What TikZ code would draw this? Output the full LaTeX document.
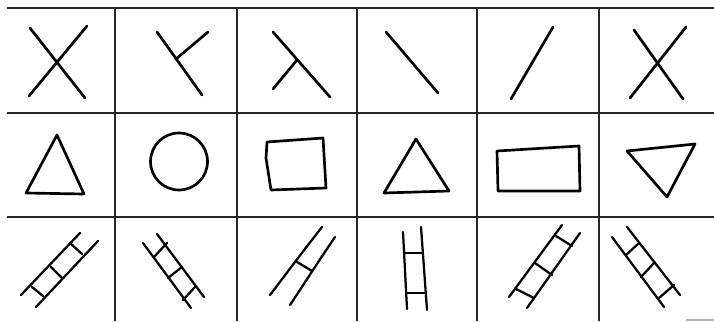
\documentclass[tikz,border=0pt]{standalone}
\usepackage{tikz}
\tikzset{
  gridline/.style={line width=1.15pt, black!85},
  sketch/.style={line width=1.9pt, line cap=round, line join=round},
  thinsketch/.style={line width=1.6pt, line cap=round, line join=round},
}

\begin{document}
\begin{tikzpicture}[x=0.025cm, y=-0.025cm]
  \useasboundingbox (0,0) rectangle (714,321);

  % grid
  \foreach \y in {8,113,217} {
    \draw[gridline] (7,\y) -- (714,\y);
  }
  \foreach \x in {115,237,357,477,599} {
    \draw[gridline] (\x,8) -- (\x,321);
  }
  \draw[gray!60, line width=0.8pt] (686,320) -- (714,320);

  % row 1: crossing lines
  \draw[sketch] (30,28) -- (85,98);
  \draw[sketch] (87,26) -- (29,96);

  \draw[sketch] (157,32) -- (202,95);
  \draw[sketch] (176,59) -- (208,32);

  \draw[sketch] (273,32) -- (330,97);
  \draw[sketch] (297,60) -- (273,89);

  \draw[sketch] (386,32) -- (438,93);

  \draw[sketch] (553,27) -- (511,99);

  \draw[sketch] (634,30) -- (683,99);
  \draw[sketch] (686,27) -- (630,98);

  % row 2: figures
  \draw[sketch] (57,135) -- (84,194) -- (26,193) -- cycle;
  \draw[sketch] (179,161.5) circle (28.5);
  \draw[sketch] (267,142) -- (323,138) -- (326,188) -- (271,190)
    -- (266,158) -- cycle;
  \draw[sketch] (416,139) -- (449,191) -- (384,193) -- cycle;
  \draw[sketch] (497,151) -- (579,146) -- (580,191) -- (498,191) -- cycle;
  \draw[sketch] (627,151) -- (695,144) -- (667,197) -- cycle;

  % row 3: ladders
  \draw[thinsketch] (21,295) -- (80,233);
  \draw[thinsketch] (36,307) -- (98,241);
  \foreach \xa/\ya/\xb/\yb in {32/287/43/296, 51/267/62/278, 70/243/82/254} {
    \draw[thinsketch] (\xa,\ya) -- (\xb,\yb);
  }

  \draw[thinsketch] (143,243) -- (191,308);
  \draw[thinsketch] (157,234) -- (204,297);
  \foreach \xa/\ya/\xb/\yb in {154/257/167/243, 168/278/182/267, 183/300/195/287} {
    \draw[thinsketch] (\xa,\ya) -- (\xb,\yb);
  }

  \draw[thinsketch] (270,295) .. controls (280,282) and (300,255) .. (322,227);
  \draw[thinsketch] (290,305) .. controls (300,290) and (318,262) .. (335,237);
  \draw[thinsketch] (297,262) -- (312,271);

  \draw[thinsketch] (403,232) -- (407,309);
  \draw[thinsketch] (421,227) -- (427,310);
  \draw[thinsketch] (405,253) -- (422,253);
  \draw[thinsketch] (407,293) -- (425,293);

  \draw[thinsketch] (509,297) -- (562,225);
  \draw[thinsketch] (527,308) -- (580,233);
  \foreach \xa/\ya/\xb/\yb in {516/289/534/298, 535/263/552/275, 556/236/572/246} {
    \draw[thinsketch] (\xa,\ya) -- (\xb,\yb);
  }

  \draw[thinsketch] (612,237) -- (664,307);
  \draw[thinsketch] (627,227) -- (680,295);
  \foreach \xa/\ya/\xb/\yb in {626/255/639/243, 641/277/654/263, 659/298/674/285} {
    \draw[thinsketch] (\xa,\ya) -- (\xb,\yb);
  }
\end{tikzpicture}
\end{document}
